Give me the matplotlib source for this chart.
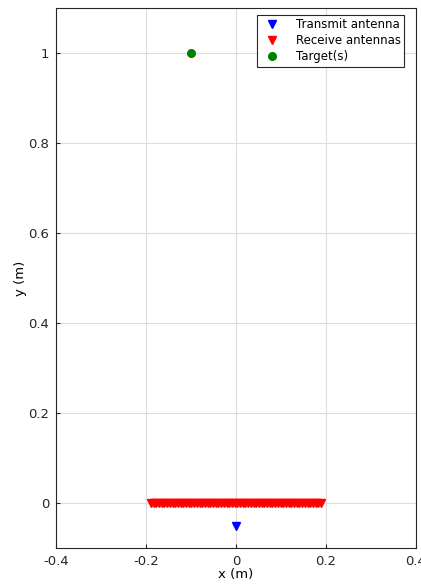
import matplotlib
matplotlib.use("Agg")
import matplotlib.pyplot as plt

# receive array element x positions (m), all at y = 0
rx_x = [-0.189, -0.183, -0.177, -0.171, -0.165, -0.159, -0.153, -0.147,
        -0.141, -0.135, -0.129, -0.123, -0.117, -0.111, -0.105, -0.099,
        -0.093, -0.087, -0.081, -0.075, -0.069, -0.063, -0.057, -0.051,
        -0.045, -0.039, -0.033, -0.027, -0.021, -0.015, -0.009, -0.003,
        0.003, 0.009, 0.015, 0.021, 0.027, 0.033, 0.039, 0.045,
        0.051, 0.057, 0.063, 0.069, 0.075, 0.081, 0.087, 0.093,
        0.099, 0.105, 0.111, 0.117, 0.123, 0.129, 0.135, 0.141,
        0.147, 0.153, 0.159, 0.165, 0.171, 0.177, 0.183, 0.189]
rx_y = [0.0] * len(rx_x)
tx_x = [0.0]
tx_y = [-0.05]
target_x = [-0.1]
target_y = [1.0]

plt.rcParams['font.family'] = ['DejaVu Sans']
plt.rcParams['font.size'] = 9.5

fig = plt.figure(figsize=(4.21, 5.88), dpi=100)
ax = fig.add_axes([0.133, 0.068, 0.855, 0.918])

ax.plot(tx_x, tx_y, 'v', color='blue', markersize=6, label='Transmit antenna')
ax.plot(rx_x, rx_y, 'v', color='red', markersize=6, label='Receive antennas')
ax.plot(target_x, target_y, 'o', color='green', markersize=5.5, label='Target(s)')

ax.set_xlim(-0.4, 0.4)
ax.set_ylim(-0.1, 1.1)
ax.set_xticks([-0.4, -0.2, 0, 0.2, 0.4])
ax.set_xticklabels(['-0.4', '-0.2', '0', '0.2', '0.4'])
ax.set_yticks([0, 0.2, 0.4, 0.6, 0.8, 1])
ax.set_yticklabels(['0', '0.2', '0.4', '0.6', '0.8', '1'])
ax.grid(True, color='#dcdcdc', linewidth=0.8)
ax.set_axisbelow(True)
ax.tick_params(direction='in', length=3, colors='#262626', labelcolor='#262626', pad=5)
for s in ax.spines.values():
    s.set_color('#262626')
ax.set_xlabel('x (m)', labelpad=0)
ax.set_ylabel('y (m)', labelpad=1)

leg = ax.legend(loc='upper right', bbox_to_anchor=(0.967, 0.988), fancybox=False,
                framealpha=1, edgecolor='#262626', fontsize=8.5,
                handletextpad=1.0, borderaxespad=0, labelspacing=0.25, borderpad=0.3)
leg.get_frame().set_linewidth(0.8)

fig.savefig('out.png', dpi=100)
